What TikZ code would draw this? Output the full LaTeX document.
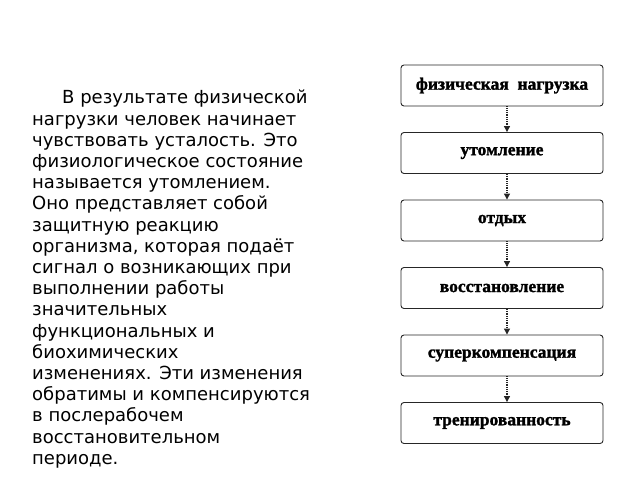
\documentclass[tikz,border=0pt]{standalone}
\usepackage{fontspec}
\setmainfont{DejaVu Sans}
\newfontfamily\boxfont[BoldFeatures={FakeBold=1.5}]{Liberation Serif}
\usetikzlibrary{positioning,arrows.meta}
\tikzset{
    stepbox/.style={draw=black!85, line width=0.9pt, rounded corners=3pt, minimum width=202pt, minimum height=41pt, inner sep=0pt, font=\boxfont\bfseries\fontsize{17.5}{17.5}\selectfont},
    flow/.style={draw=black!85, line width=1.1pt, dash pattern=on 1pt off 0.8pt, -{Triangle[width=6pt,length=6pt]}}
}
\begin{document}
\begin{tikzpicture}[x=1pt,y=-1pt, node distance=25.6pt]
        \useasboundingbox (0,0) rectangle (640,480);
        \node[anchor=north west, align=left, inner sep=0pt, font=\fontsize{18}{21.2}\selectfont] (txt) at (32,90) {\hspace*{30pt}В результате физической\\ нагрузки человек начинает\\ чувствовать усталость. Это\\ физиологическое состояние\\ называется утомлением.\\ Оно представляет собой\\ защитную реакцию\\ организма, которая подаёт\\ сигнал о возникающих при\\ выполнении работы\\ значительных\\ функциональных и\\ биохимических\\ изменениях. Эти изменения\\ обратимы и компенсируются\\ в послерабочем\\ восстановительном\\ периоде.};
        \node[stepbox] (load) at (502,85.5) {физическая\ \ нагрузка};
        \node[stepbox, below=of load] (fatigue) {утомление};
        \node[stepbox, below=of fatigue] (rest) {отдых};
        \node[stepbox, below=of rest] (recovery) {восстановление};
        \node[stepbox, below=of recovery] (supercomp) {суперкомпенсация};
        \node[stepbox, below=of supercomp] (fitness) {тренированность};
        \draw[flow] ([xshift=5pt]load.south) -- ([xshift=5pt]fatigue.north);
        \draw[flow] ([xshift=5pt]fatigue.south) -- ([xshift=5pt]rest.north);
        \draw[flow] ([xshift=5pt]rest.south) -- ([xshift=5pt]recovery.north);
        \draw[flow] ([xshift=5pt]recovery.south) -- ([xshift=5pt]supercomp.north);
        \draw[flow] ([xshift=5pt]supercomp.south) -- ([xshift=5pt]fitness.north);
    \end{tikzpicture}
\end{document}
